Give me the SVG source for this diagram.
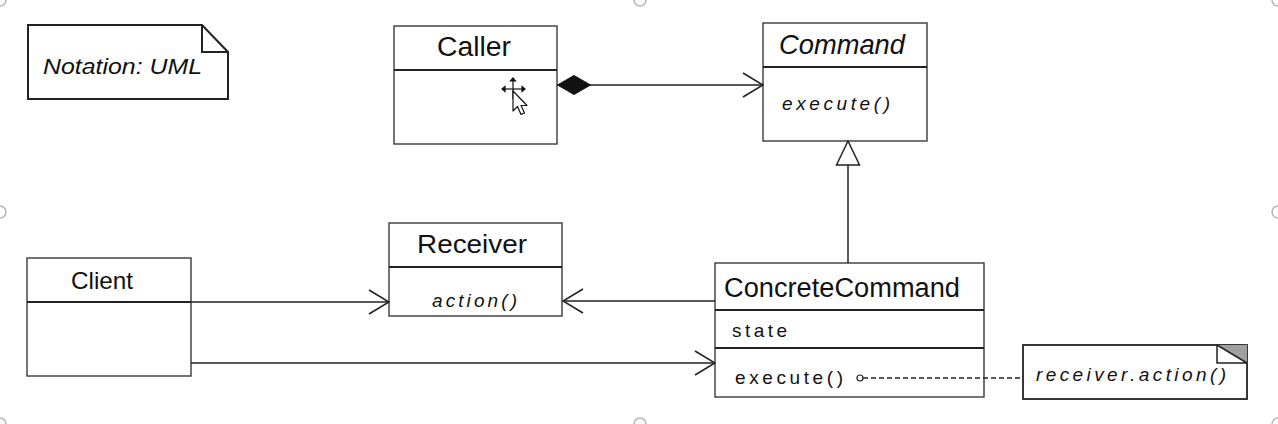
<svg xmlns="http://www.w3.org/2000/svg" width="1278" height="424" viewBox="0 0 1278 424">
<style>
  .box { fill: #fff; stroke: #3a3a3a; stroke-width: 1.4; }
  .div { stroke: #222; stroke-width: 2; fill: none; }
  .name { font-family: "Liberation Sans", Arial, sans-serif; fill: #111; }
  .op { font-family: "Liberation Sans", Arial, sans-serif; font-size: 19px; fill: #111; }
  .it { font-style: italic; }
  .conn { stroke: #222; stroke-width: 1.5; fill: none; }
  .handle { fill: #fff; stroke: #b5b5b5; stroke-width: 1.5; }
</style>
<defs>
  <marker id="open" viewBox="0 0 22 26" refX="21" refY="13" markerWidth="22" markerHeight="26" markerUnits="userSpaceOnUse" orient="auto">
    <path d="M1,1 L21,13 L1,25" fill="none" stroke="#222" stroke-width="1.6"/>
  </marker>
  <marker id="diamond" viewBox="0 0 34 22" refX="0" refY="11" markerWidth="34" markerHeight="22" markerUnits="userSpaceOnUse" orient="auto">
    <path d="M0.5,11 L17,1.5 L33.5,11 L17,20.5 Z" fill="#111" stroke="#111" stroke-width="1"/>
  </marker>
  <marker id="tri" viewBox="0 0 26 26" refX="25" refY="13" markerWidth="26" markerHeight="26" markerUnits="userSpaceOnUse" orient="auto">
    <path d="M1,1.5 L25,13 L1,24.5 Z" fill="#fff" stroke="#222" stroke-width="1.5"/>
  </marker>
</defs>
<rect width="1278" height="424" fill="#fff"/>

<!-- selection handles -->
<g id="handles">
  <circle class="handle" cx="0" cy="0" r="6"/>
  <circle class="handle" cx="640" cy="0" r="6"/>
  <circle class="handle" cx="1278" cy="0" r="6"/>
  <circle class="handle" cx="0" cy="212" r="6"/>
  <circle class="handle" cx="1278" cy="212" r="6"/>
  <circle class="handle" cx="0" cy="424" r="6"/>
  <circle class="handle" cx="640" cy="424" r="6"/>
  <circle class="handle" cx="1278" cy="424" r="6"/>
</g>

<g id="note-notation">
  <path class="box" d="M28,25 L202,25 L228,52 L228,99 L28,99 Z" style="stroke-width:2;stroke:#222"/>
  <path d="M202,25 L202,52 L228,52" fill="none" stroke="#222" stroke-width="2"/>
  <text class="name it" x="43" y="74" font-size="22" textLength="159" lengthAdjust="spacingAndGlyphs">Notation: UML</text>
</g>

<g id="caller">
  <rect class="box" x="394" y="26" width="163" height="118"/>
  <line class="div" x1="394" y1="70" x2="557" y2="70"/>
  <text class="name" x="437" y="56" font-size="27" textLength="74" lengthAdjust="spacingAndGlyphs">Caller</text>
</g>

<g id="command">
  <rect class="box" x="763" y="23" width="164" height="118"/>
  <line class="div" x1="763" y1="67" x2="927" y2="67"/>
  <text class="name it" x="779" y="54" font-size="28" textLength="126" lengthAdjust="spacingAndGlyphs">Command</text>
  <text class="op it" x="782" y="110" textLength="108" lengthAdjust="spacing">execute()</text>
</g>

<g id="receiver">
  <rect class="box" x="389" y="223" width="173" height="93"/>
  <line class="div" x1="389" y1="267" x2="562" y2="267"/>
  <text class="name" x="417" y="253" font-size="26" textLength="110" lengthAdjust="spacingAndGlyphs">Receiver</text>
  <text class="op it" x="432" y="307" textLength="85" lengthAdjust="spacing">action()</text>
</g>

<g id="client">
  <rect class="box" x="27" y="258" width="164" height="118"/>
  <line class="div" x1="27" y1="302" x2="191" y2="302"/>
  <text class="name" x="71" y="289" font-size="24" textLength="62" lengthAdjust="spacingAndGlyphs">Client</text>
</g>

<g id="concrete-command">
  <rect class="box" x="715" y="263" width="269" height="134"/>
  <line class="div" x1="715" y1="310" x2="984" y2="310"/>
  <line class="div" x1="715" y1="348" x2="984" y2="348"/>
  <text class="name" x="724" y="297" font-size="27" textLength="236" lengthAdjust="spacingAndGlyphs">ConcreteCommand</text>
  <text class="op" x="732" y="337" textLength="55" lengthAdjust="spacing">state</text>
  <text class="op" x="735" y="384" textLength="108" lengthAdjust="spacing">execute()</text>
</g>

<g id="note-action">
  <rect class="box" x="1023" y="345" width="224" height="54" style="stroke:#222;stroke-width:1.8"/>
  <path d="M1217,345 L1247,345 L1247,363 Z" fill="#a0a0a0"/>
  <path d="M1217,345 L1217,363 L1247,363 M1217,345 L1247,363" fill="none" stroke="#222" stroke-width="1.5"/>
  <text class="op it" x="1036" y="381" textLength="190" lengthAdjust="spacing">receiver.action()</text>
</g>

<g id="connectors">
  <line class="conn" x1="557" y1="85" x2="763" y2="85" marker-start="url(#diamond)" marker-end="url(#open)"/>
  <line class="conn" x1="848" y1="263" x2="848" y2="141" marker-end="url(#tri)"/>
  <line class="conn" x1="191" y1="302" x2="389" y2="302" marker-end="url(#open)"/>
  <line class="conn" x1="715" y1="301" x2="563" y2="301" marker-end="url(#open)"/>
  <line class="conn" x1="191" y1="363" x2="715" y2="363" marker-end="url(#open)"/>
  <line x1="863" y1="378" x2="1023" y2="378" stroke="#222" stroke-width="1.6" stroke-dasharray="5,3"/>
  <circle cx="860" cy="378" r="3" fill="#fff" stroke="#222" stroke-width="1.2"/>
</g>

<!-- mouse cursor artifact -->
<g id="cursor" stroke="#111" stroke-width="1.2">
  <line x1="502" y1="89" x2="525" y2="89"/>
  <line x1="513" y1="78" x2="513" y2="99"/>
  <path d="M502,89 L505,86.5 L505,91.5 Z M525,89 L522,86.5 L522,91.5 Z M513,78 L510.5,81 L515.5,81 Z" fill="#111"/>
  <path d="M513,91 L513,111 L517.5,106.5 L521,114.5 L524.5,113 L521,105.5 L527,105.5 Z" fill="#fff" stroke="#111" stroke-width="1.2" stroke-linejoin="round"/>
</g>
</svg>
